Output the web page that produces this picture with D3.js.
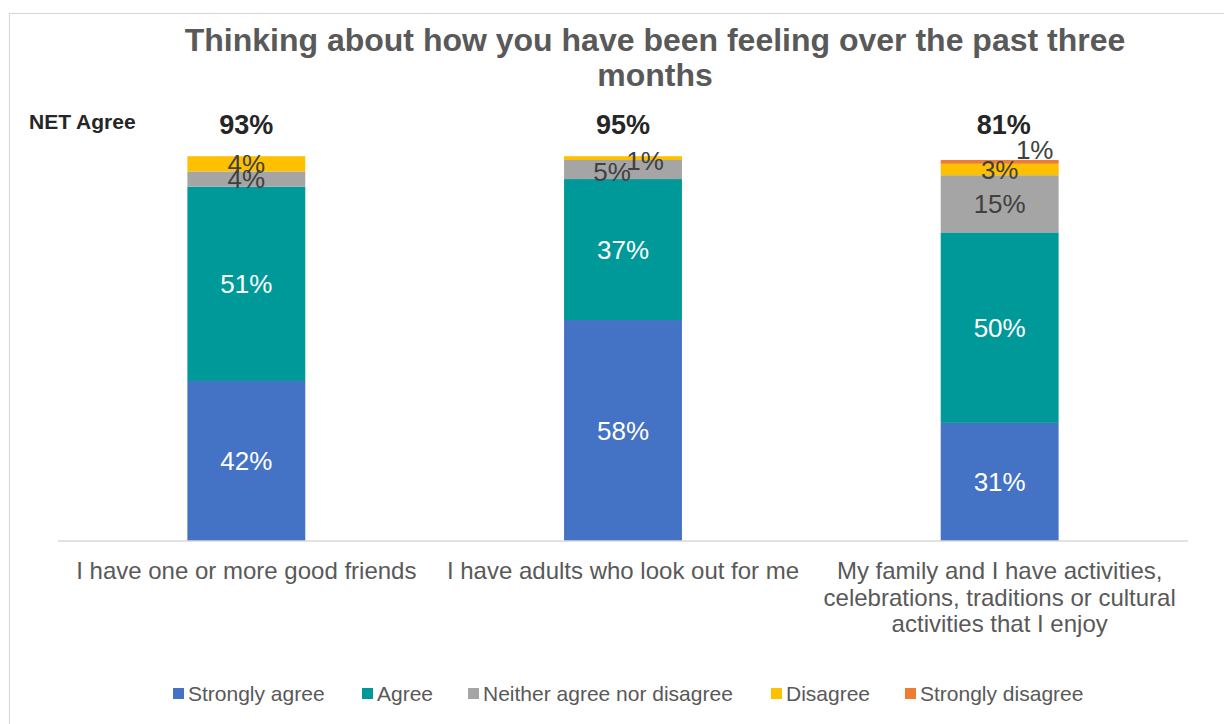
<!DOCTYPE html>
<html>
<head>
<meta charset="utf-8">
<script src="https://cdn.jsdelivr.net/npm/d3@7"></script>
<style>
  html, body { margin: 0; padding: 0; background: #fff; }
  svg { display: block; font-family: "Liberation Sans", Arial, sans-serif; }
</style>
</head>
<body>
<svg id="chart" width="1224" height="724"></svg>
<script>
// Survey responses, percent of respondents
const categories = [
  "I have one or more good friends",
  "I have adults who look out for me",
  "My family and I have activities, celebrations, traditions or cultural activities that I enjoy"
];
const categoryLines = [
  ["I have one or more good friends"],
  ["I have adults who look out for me"],
  ["My family and I have activities,", "celebrations, traditions or cultural", "activities that I enjoy"]
];
const seriesNames = ["Strongly agree", "Agree", "Neither agree nor disagree", "Disagree", "Strongly disagree"];
const stronglyAgree    = [42, 58, 31];
const agree            = [51, 37, 50];
const neither          = [4, 5, 15];
const disagree         = [4, 1, 3];
const stronglyDisagree = [0, 0, 1];
const netAgree         = [93, 95, 81];

const colors = ["#4472C4", "#009999", "#A5A5A5", "#FFC000", "#ED7D31"];
const labelColors = ["#ffffff", "#ffffff", "#404040", "#404040", "#404040"];

const seriesValues = [stronglyAgree, agree, neither, disagree, stronglyDisagree];
const rows = categories.map((c, i) => {
  const r = { category: c };
  seriesNames.forEach((s, k) => { r[s] = seriesValues[k][i]; });
  return r;
});

const svg = d3.select("#chart");

// outer chart frame (continues past the right and bottom of the view)
svg.append("rect")
  .attr("x", 9.5).attr("y", 13.5)
  .attr("width", 1400).attr("height", 900)
  .attr("fill", "#fff").attr("stroke", "#d9d9d9").attr("stroke-width", 1.2);

const plot = { left: 58, right: 1188, top: 160, bottom: 541 };

const x = d3.scaleBand()
  .domain(categories)
  .range([plot.left, plot.right])
  .paddingInner(0.687)
  .paddingOuter(0.3435);

const y = d3.scaleLinear()
  .domain([0, 100])
  .range([plot.bottom, plot.top]);

const stack = d3.stack().keys(seriesNames);
const layers = stack(rows);

// stacked bars
const g = svg.append("g");
layers.forEach((layer, k) => {
  g.append("g").attr("fill", colors[k])
    .selectAll("rect")
    .data(layer.filter(d => d[1] - d[0] > 0))
    .join("rect")
      .attr("x", d => x(d.data.category))
      .attr("width", x.bandwidth())
      .attr("y", d => y(d[1]))
      .attr("height", d => y(d[0]) - y(d[1]));
});

// nudges for labels on thin segments that would otherwise collide
const labelNudge = {
  "1-2": [-11, 2], "1-3": [22, 3],
  "2-4": [35, -12]
};

layers.forEach((layer, k) => {
  g.append("g")
    .selectAll("text")
    .data(layer.map((d, i) => ({ d, i })).filter(o => o.d[1] - o.d[0] > 0))
    .join("text")
      .attr("x", o => x(o.d.data.category) + x.bandwidth() / 2 + ((labelNudge[o.i + "-" + k] || [0, 0])[0]))
      .attr("y", o => (y(o.d[0]) + y(o.d[1])) / 2 + ((labelNudge[o.i + "-" + k] || [0, 0])[1]))
      .attr("dy", "0.36em")
      .attr("text-anchor", "middle")
      .attr("font-size", 26)
      .attr("fill", labelColors[k])
      .text(o => seriesValues[k][o.i] + "%");
});

// category axis
const xAxis = d3.axisBottom(x).tickSize(0).tickFormat("");
const axisG = svg.append("g")
  .attr("transform", `translate(0,${plot.bottom})`)
  .call(xAxis);
axisG.select(".domain").attr("stroke", "#d9d9d9").attr("stroke-width", 1.5)
  .attr("d", `M${plot.left},0H${plot.right}`);
axisG.selectAll(".tick").each(function(c, i) {
  const t = d3.select(this).append("text")
    .attr("text-anchor", "middle")
    .attr("fill", "#595959")
    .attr("font-size", 24)
    .attr("y", 38);
  categoryLines[i].forEach((line, j) => {
    t.append("tspan").attr("x", 0).attr("dy", j === 0 ? 0 : 26.5).text(line);
  });
});

// NET agree totals
svg.append("text")
  .attr("x", 29).attr("y", 129)
  .attr("font-size", 21).attr("font-weight", "bold").attr("fill", "#262626")
  .text("NET Agree");
svg.append("g").selectAll("text")
  .data(categories)
  .join("text")
    .attr("x", (c, i) => x(c) + x.bandwidth() / 2 + (i === 2 ? 4 : 0))
    .attr("y", 134)
    .attr("text-anchor", "middle")
    .attr("font-size", 27).attr("font-weight", "bold").attr("fill", "#262626")
    .text((c, i) => netAgree[i] + "%");

// title
const title = svg.append("text")
  .attr("x", 655).attr("y", 51)
  .attr("text-anchor", "middle")
  .attr("font-size", 32).attr("font-weight", "bold").attr("fill", "#595959");
title.append("tspan").attr("x", 655).text("Thinking about how you have been feeling over the past three");
title.append("tspan").attr("x", 655).attr("dy", 35).text("months");

// legend
const legendItems = [
  { name: seriesNames[0], sx: 173 },
  { name: seriesNames[1], sx: 362 },
  { name: seriesNames[2], sx: 468 },
  { name: seriesNames[3], sx: 771 },
  { name: seriesNames[4], sx: 905 }
];
const lg = svg.append("g").selectAll("g")
  .data(legendItems)
  .join("g")
    .attr("transform", d => `translate(${d.sx},0)`);
lg.append("rect")
  .attr("x", 0).attr("y", 688).attr("width", 11).attr("height", 11)
  .attr("fill", (d, i) => colors[i]);
lg.append("text")
  .attr("x", 15).attr("y", 701)
  .attr("font-size", 21).attr("fill", "#595959")
  .text(d => d.name);
</script>
</body>
</html>
